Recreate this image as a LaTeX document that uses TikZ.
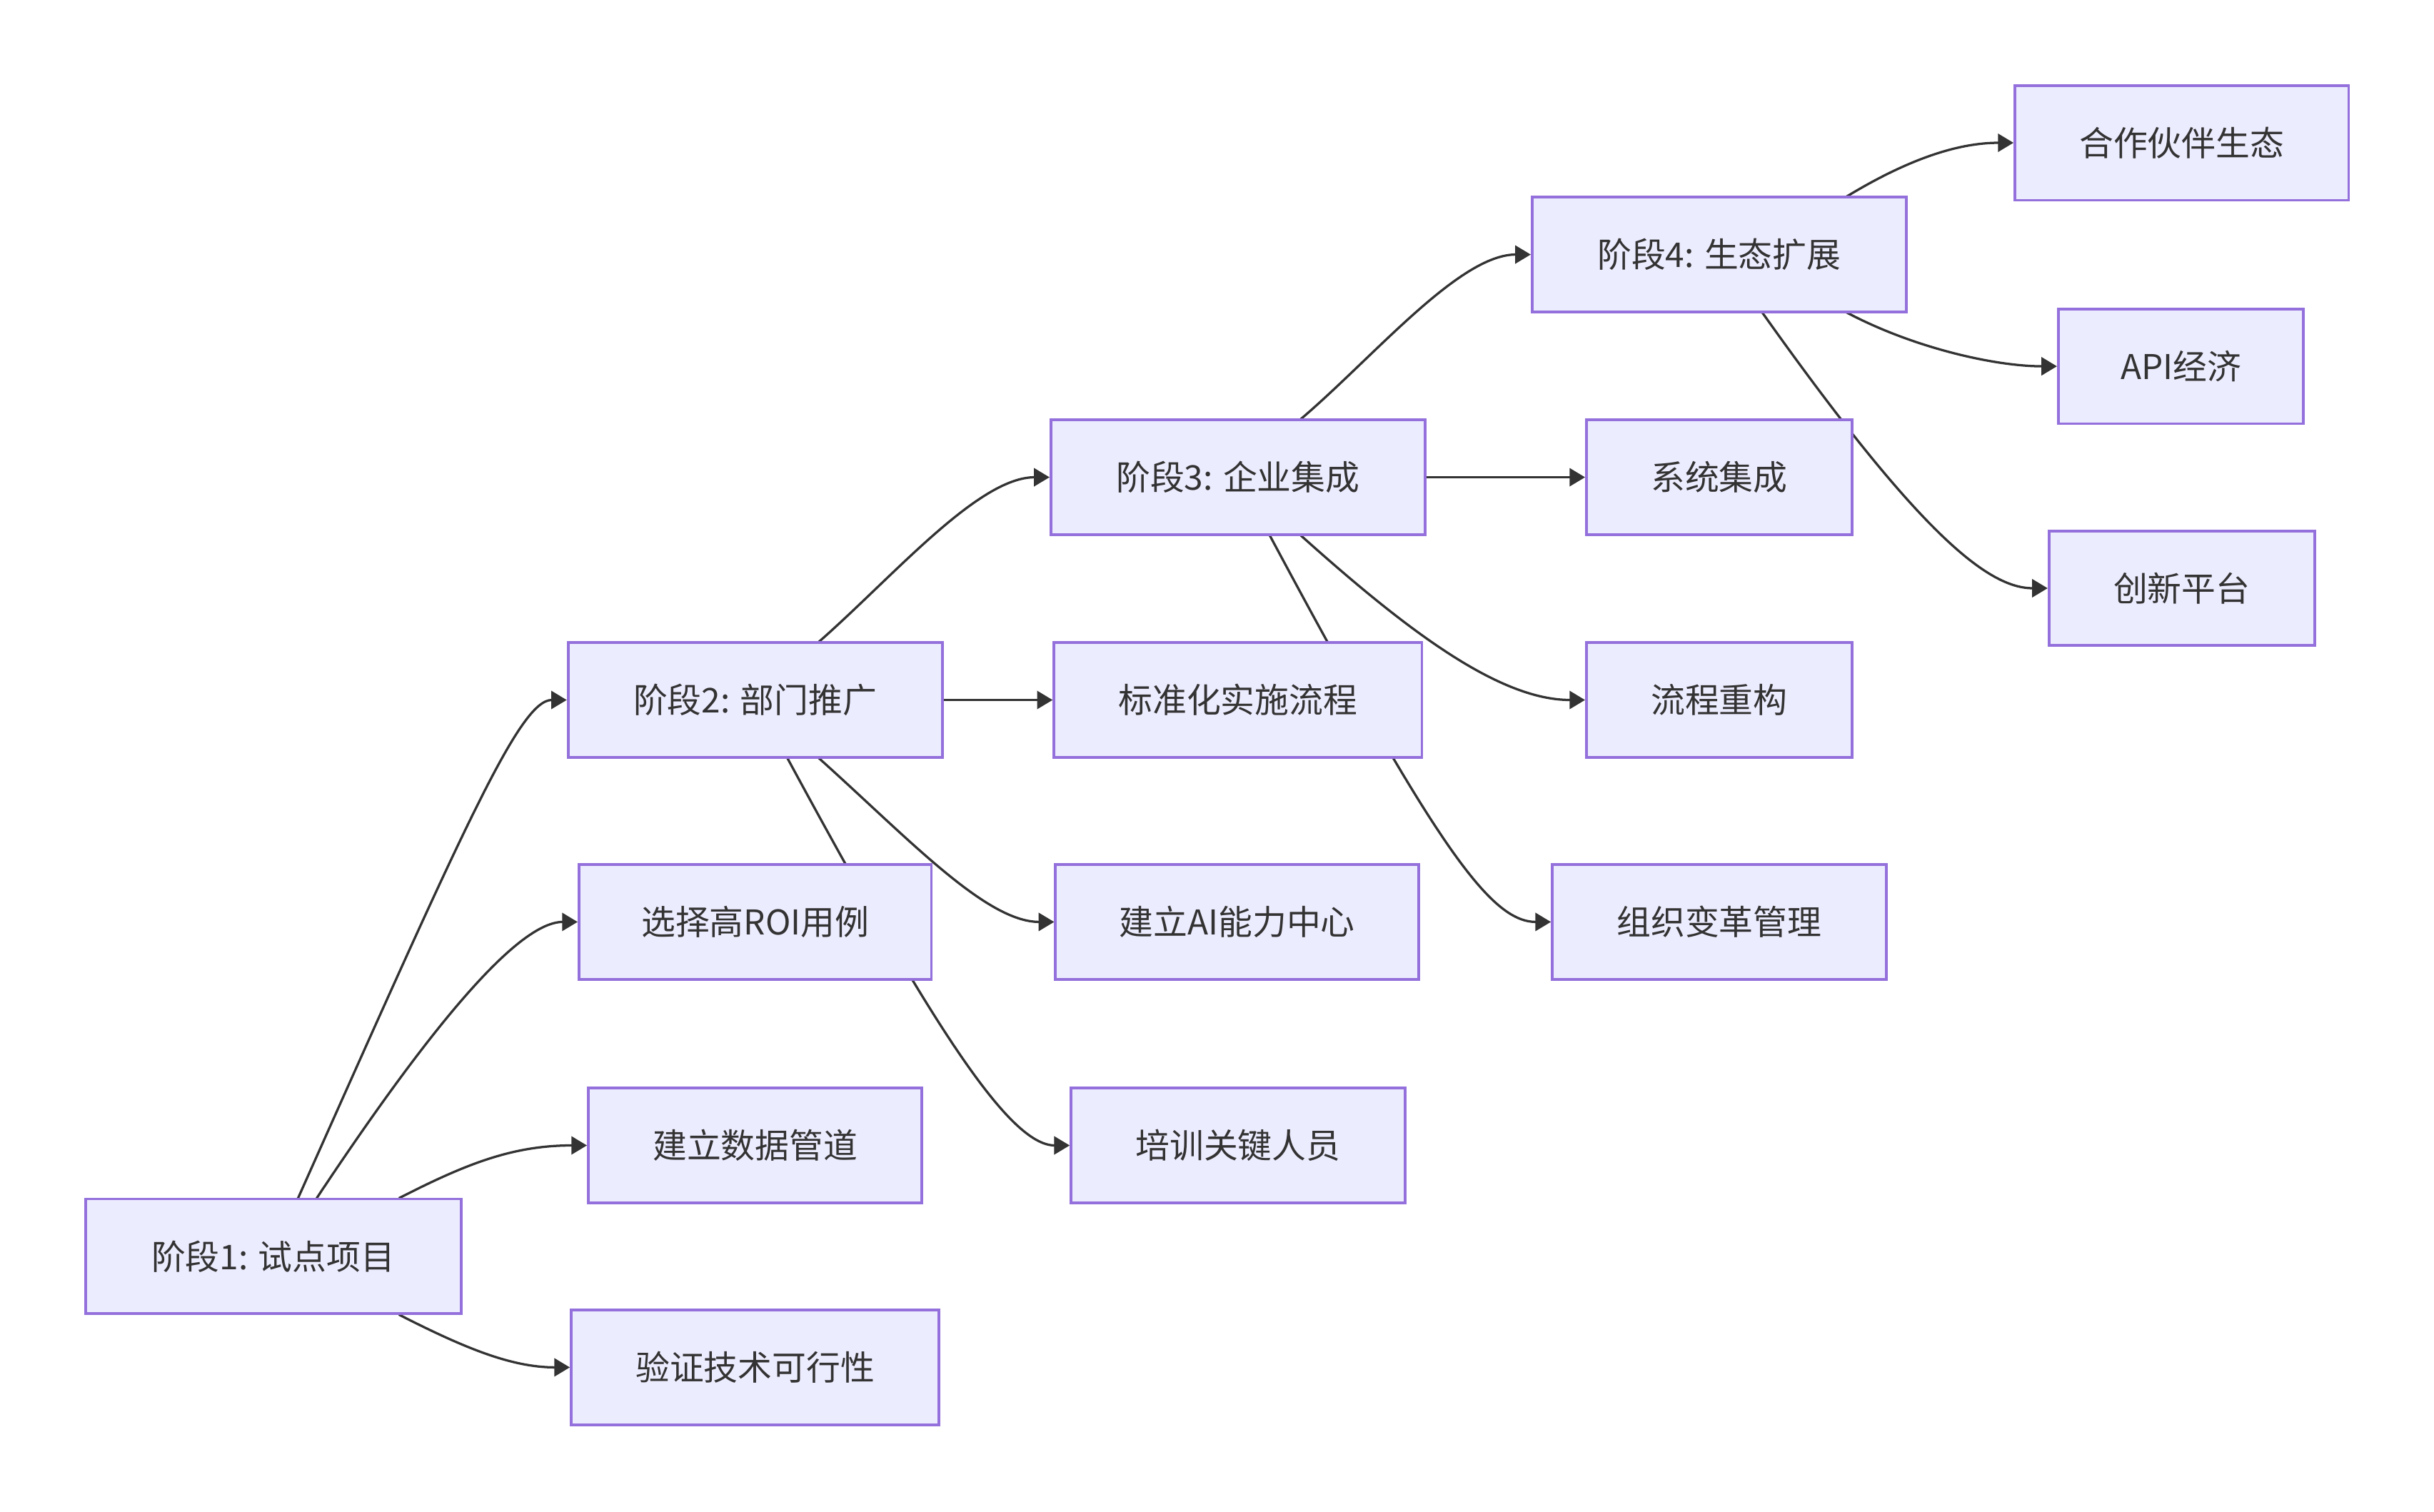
\documentclass[tikz,border=0pt]{standalone}
\usepackage{fontspec}
\newfontfamily\cjk{Noto Sans CJK SC}
\usetikzlibrary{arrows.meta,calc}
\pgfdeclarelayer{background}
\pgfsetlayers{background,main}
\definecolor{nodefill}{HTML}{ECECFF}
\definecolor{nodeline}{HTML}{9370DB}
\definecolor{edgecol}{HTML}{333333}
\begin{document}
\begin{tikzpicture}[x=0.5pt,y=-0.5pt,
  box/.style={draw=nodeline,fill=nodefill,line width=0.9pt,minimum height=37pt,inner sep=0pt,
    text=edgecol,font=\cjk\fontsize{11}{13}\selectfont},
  conn/.style={draw=edgecol,line width=0.75pt,-{Triangle[length=5pt,width=5.8pt]}}]
\useasboundingbox (0,0) rectangle (1568,974);
\path
 (176,809.5) node[box,minimum width=121pt] (p1) {阶段1: 试点项目}
 (486.5,594) node[box,minimum width=113.5pt] (roi) {选择高ROI用例}
 (486.5,738) node[box,minimum width=107.5pt] (data) {建立数据管道}
 (486.5,881) node[box,minimum width=118.5pt] (ver) {验证技术可行性}
 (486.5,451) node[box,minimum width=120.5pt] (p2) {阶段2: 部门推广}
 (797.5,451) node[box,minimum width=118.5pt] (std) {标准化实施流程}
 (797,594) node[box,minimum width=117pt] (ai) {建立AI能力中心}
 (797.5,738) node[box,minimum width=107.5pt] (train) {培训关键人员}
 (797.5,307.5) node[box,minimum width=120.5pt] (p3) {阶段3: 企业集成}
 (1107.5,307.5) node[box,minimum width=85.5pt] (sys) {系统集成}
 (1107.5,451) node[box,minimum width=85.5pt] (flow) {流程重构}
 (1107.5,594) node[box,minimum width=107.5pt] (org) {组织变革管理}
 (1107.5,164) node[box,minimum width=120.5pt] (p4) {阶段4: 生态扩展}
 (1405.5,92) node[box,minimum width=107.5pt] (partner) {合作伙伴生态}
 (1405,236) node[box,minimum width=79pt] (api) {API经济}
 (1405.5,379) node[box,minimum width=85.5pt] (innov) {创新平台};
\begin{pgfonlayer}{background}
\draw[conn] ($(p1)+(16,-37.5)$) .. controls (300,530) and (335,451) .. (p2.west);
\draw[conn] ($(p1)+(28,-37.5)$) .. controls (265,680) and (330,594) .. (roi.west);
\draw[conn] ($(p1)+(81,-37.5)$) .. controls (300,750) and (330,738) .. (data.west);
\draw[conn] ($(p1)+(81,37.5)$) .. controls (300,869) and (330,881) .. (ver.west);
\draw[conn] ($(p2)+(40.5,-37)$) .. controls (575,372) and (630,307.5) .. (p3.west);
\draw[conn] (p2.east) -- (std.west);
\draw[conn] ($(p2)+(40.5,37)$) .. controls (585,540) and (635,594) .. (ai.west);
\draw[conn] ($(p2)+(20.5,37)$) .. controls (600,660) and (650,738) .. (train.west);
\draw[conn] ($(p3)+(40.5,-37.5)$) .. controls (885,230) and (940,164) .. (p4.west);
\draw[conn] (p3.east) -- (sys.west);
\draw[conn] ($(p3)+(40.5,37.5)$) .. controls (905,405) and (965,451) .. (flow.west);
\draw[conn] ($(p3)+(20.5,37.5)$) .. controls (925,545) and (960,594) .. (org.west);
\draw[conn] ($(p4)+(81.5,-37)$) .. controls (1230,102) and (1262,92) .. (partner.west);
\draw[conn] ($(p4)+(81.5,37)$) .. controls (1232,224) and (1285,236) .. (api.west);
\draw[conn] ($(p4)+(27.5,37)$) .. controls (1235,342) and (1280,379) .. (innov.west);
\end{pgfonlayer}
\end{tikzpicture}
\end{document}
